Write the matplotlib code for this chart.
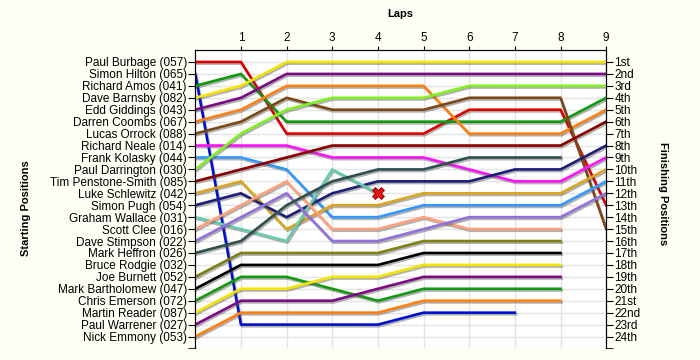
import matplotlib
matplotlib.use("Agg")
import matplotlib.pyplot as plt
import matplotlib.patheffects as pe


drivers = [
    "Paul Burbage (057)", "Simon Hilton (065)", "Richard Amos (041)",
    "Dave Barnsby (082)", "Edd Giddings (043)", "Darren Coombs (067)",
    "Lucas Orrock (088)", "Richard Neale (014)", "Frank Kolasky (044)",
    "Paul Darrington (030)", "Tim Penstone-Smith (085)", "Luke Schlewitz (042)",
    "Simon Pugh (054)", "Graham Wallace (031)", "Scott Clee (016)",
    "Dave Stimpson (022)", "Mark Heffron (026)", "Bruce Rodgie (032)",
    "Joe Burnett (052)", "Mark Bartholomew (047)", "Chris Emerson (072)",
    "Martin Reader (087)", "Paul Warrener (027)", "Nick Emmony (053)",
]

finishing_labels = [
    "1st", "2nd", "3rd", "4th", "5th", "6th", "7th", "8th", "9th", "10th",
    "11th", "12th", "13th", "14th", "15th", "16th", "17th", "18th", "19th",
    "20th", "21st", "22nd", "23rd", "24th",
]

laps = [1, 2, 3, 4, 5, 6, 7, 8, 9]

# position after each lap, lap 0 = grid slot
burbage = [1, 1, 7, 7, 7, 7, 5, 5, 5, 13]
hilton = [2, 23, 23, 23, 23, 22, 22, 22]
amos = [3, 2, 6, 6, 6, 6, 6, 6, 6, 4]
barnsby = [4, 3, 1, 1, 1, 1, 1, 1, 1, 1]
giddings = [5, 4, 2, 2, 2, 2, 2, 2, 2, 2]
coombs = [6, 5, 3, 3, 3, 3, 7, 7, 7, 5]
orrock = [7, 6, 4, 5, 5, 5, 4, 4, 4, 15]
neale = [8, 8, 8, 9, 9, 9, 10, 11, 11, 9]
kolasky = [9, 9, 10, 14, 14, 13, 13, 13, 13, 11]
darrington = [10, 7, 5, 4, 4, 4, 3, 3, 3, 3]
penstone_smith = [11, 10, 9, 8, 8, 8, 8, 8, 8, 6]
schlewitz = [12, 11, 15, 13, 13, 12, 12, 12, 12, 10]
pugh = [13, 12, 14, 12, 11, 11, 11, 10, 10, 8]
wallace = [14, 15, 16, 10, 12]
clee = [15, 13, 11, 15, 15, 14, 15, 15, 15]
stimpson = [16, 14, 12, 16, 16, 15, 14, 14, 14, 12]
heffron = [17, 16, 13, 11, 10, 10, 9, 9, 9]
burnett = [19, 17, 17, 17, 17, 16, 16, 16, 16]
bartholomew = [20, 18, 18, 18, 18, 17, 17, 17, 17]
emerson = [21, 19, 19, 20, 21, 20, 20, 20, 20]
reader = [22, 20, 20, 19, 19, 18, 18, 18, 18]
warrener = [23, 21, 21, 21, 20, 19, 19, 19, 19]
emmony = [24, 22, 22, 22, 22, 21, 21, 21, 21]

series = [
    (burbage, "#E00000"), (hilton, "#0010D0"), (amos, "#109A10"),
    (barnsby, "#F5E400"), (giddings, "#7E0A86"), (coombs, "#FF8010"),
    (orrock, "#7A4A14"), (neale, "#FF10FF"), (kolasky, "#3399FF"),
    (darrington, "#80F020"), (penstone_smith, "#8A0000"), (schlewitz, "#DAA520"),
    (pugh, "#1E1E78"), (wallace, "#66CDAA"), (clee, "#FFA07A"),
    (stimpson, "#9370DB"), (heffron, "#2F4F4F"), (burnett, "#808010"),
    (bartholomew, "#000000"), (emerson, "#109A10"), (reader, "#F5E400"),
    (warrener, "#7E0A86"), (emmony, "#FF8010"),
]
retired_idx = 13  # Graham Wallace, out after lap 4

plt.rcParams["font.family"] = ["Liberation Sans", "DejaVu Sans"]
bg = "#FFFEF4"
fig = plt.figure(figsize=(7, 3.6), dpi=100, facecolor=bg)
ax = fig.add_axes([0.279, 0.032, 0.587, 0.829])
ax.set_facecolor("white")

shadow = [pe.SimpleLineShadow(offset=(0.8, -1.2), shadow_color="#555555", alpha=0.45),
          pe.Normal()]
for i, (pos, color) in enumerate(series):
    x = list(range(len(pos)))
    ax.plot(x, pos, color=color, linewidth=1.9, path_effects=shadow, zorder=3)
    if i == retired_idx:
        ax.plot(x[-1], pos[-1], marker="X", markersize=9, color="#E81010",
                markeredgecolor="#800000", markeredgewidth=0.6, zorder=5)

ax.set_xlim(0, 9)
ax.set_ylim(25, 0)
ax.set_xticks(laps)
ax.xaxis.tick_top()
ax.xaxis.set_label_position("top")
ax.set_xlabel("Laps", fontsize=8, fontweight="bold", labelpad=11)
ax.tick_params(axis="x", labelsize=8.5, length=3, pad=1)

ax.set_yticks(range(1, 25))
ax.set_yticklabels(drivers, fontsize=8.5)
ax.set_ylabel("Starting Positions", fontsize=8, fontweight="bold")
ax.yaxis.set_label_coords(-0.40, 0.47)
ax.set_yticks([25], minor=True)
ax.tick_params(axis="y", which="both", length=5, pad=1)

ax2 = ax.twinx()
ax2.set_ylim(25, 0)
ax2.set_yticks(range(1, 25))
ax2.set_yticklabels(finishing_labels, fontsize=8.5)
ax2.set_yticks([25], minor=True)
ax2.tick_params(axis="y", which="both", length=5, pad=1)
ax2.set_ylabel("Finishing Positions", fontsize=8, fontweight="bold", rotation=270)
ax2.yaxis.set_label_coords(1.15, 0.52)

for a in (ax, ax2):
    a.spines["bottom"].set_visible(False)

for lap in laps:
    ax.axvline(lap, color="#E4E4E4", linewidth=1.0, zorder=1)
for p in range(1, 26):
    ax.axhline(p, color="#E4E4E4", linewidth=1.0, zorder=1)

fig.savefig("out.png", facecolor=bg)
